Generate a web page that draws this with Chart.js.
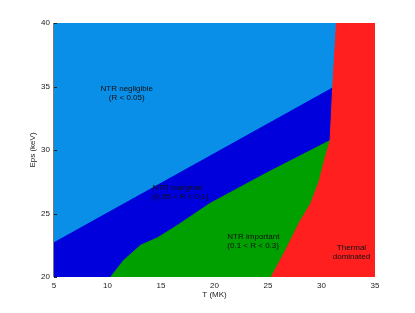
<!DOCTYPE html>
<html>
<head>
    <title>NTR regimes</title>
    <script src="https://cdn.jsdelivr.net/npm/chart.js"></script>
    <style>
        body { margin: 0; background: #fff; }
        #wrap { width: 415px; height: 313px; }
    </style>
</head>
<body>
    <div id="wrap"><canvas id="regimes" width="415" height="313"></canvas></div>

    <script>
        // boundaries (T in MK, Eps in keV)
        const topT = [5, 35];
        const topE = [40, 40];

        const marginalT = [5, 31.5];
        const marginalE = [22.7, 35.1];

        const importantT = [10.3, 11.5, 13.1, 14.7, 16.6, 19.6, 24.9, 30.7, 31.3];
        const importantE = [20, 21.3, 22.5, 23.1, 24.1, 25.8, 28.2, 30.7, 31.0];

        const thermalT = [25.3, 26.7, 28.0, 29.0, 29.8, 30.4, 30.8, 31.05, 31.4, 35, 35];
        const thermalE = [20, 22.2, 24.4, 25.8, 27.6, 29.6, 30.7, 35, 40, 40, 20];

        const xTicks = [5, 10, 15, 20, 25, 30, 35];
        const yTicks = [20, 25, 30, 35, 40];

        // region labels: [lines, T, Eps, align]
        const etiquetas = [
            [['NTR negligible', '(R < 0.05)'], 11.8, 34.5, 'center'],
            [['NTR marginal', '(0.05 < R < 0.1)'], 14.2, 26.65, 'left'],
            [['NTR important', '(0.1 < R < 0.3)'], 21.2, 22.8, 'left'],
            [['Thermal', 'dominated'], 32.8, 21.95, 'center']
        ];

        const puntos = (xs, ys) => xs.map((x, i) => ({ x: x, y: ys[i] }));

        function region(label, xs, ys, color, order) {
            return {
                label: label,
                data: puntos(xs, ys),
                backgroundColor: color,
                borderColor: color,
                borderWidth: 1,
                pointRadius: 0,
                fill: 'start',
                tension: 0,
                order: order
            };
        }

        const textoRegiones = {
            id: 'textoRegiones',
            afterDatasetsDraw(chart) {
                const ctx = chart.ctx;
                const xs = chart.scales.x, ys = chart.scales.y;
                ctx.save();

                // y axis line and inner ticks
                ctx.strokeStyle = '#777';
                ctx.lineWidth = 1;
                ctx.beginPath();
                ctx.moveTo(xs.left - 0.5, ys.top);
                ctx.lineTo(xs.left - 0.5, ys.bottom);
                ctx.stroke();
                ctx.strokeStyle = '#222';
                yTicks.forEach(v => {
                    const py = Math.round(ys.getPixelForValue(v)) + 0.5;
                    ctx.beginPath();
                    ctx.moveTo(xs.left, py);
                    ctx.lineTo(xs.left + 3, py);
                    ctx.stroke();
                });

                ctx.fillStyle = '#111';
                ctx.font = '8px "Liberation Sans", Arial, sans-serif';
                ctx.textBaseline = 'middle';
                etiquetas.forEach(([lineas, t, e, align]) => {
                    const px = xs.getPixelForValue(t);
                    const py = ys.getPixelForValue(e);
                    ctx.textAlign = align;
                    lineas.forEach((l, i) => {
                        ctx.fillText(l, px, py + (i - (lineas.length - 1) / 2) * 9);
                    });
                });
                ctx.restore();
            }
        };

        const ctx = document.getElementById('regimes').getContext('2d');
        new Chart(ctx, {
            type: 'line',
            data: {
                datasets: [
                    region('NTR negligible', topT, topE, '#0a8fe8', 4),
                    region('NTR marginal', marginalT, marginalE, '#0000dc', 3),
                    region('NTR important', importantT, importantE, '#00a000', 2),
                    region('Thermal dominated', thermalT, thermalE, '#ff1f1f', 1)
                ]
            },
            options: {
                responsive: false,
                animation: false,
                layout: { padding: { left: 0, right: 40, top: 23, bottom: 0 } },
                plugins: {
                    legend: { display: false },
                    tooltip: { enabled: false }
                },
                scales: {
                    x: {
                        type: 'linear',
                        min: 5,
                        max: 35,
                        afterBuildTicks: s => { s.ticks = xTicks.map(v => ({ value: v })); },
                        grid: { display: false, drawTicks: false },
                        border: { display: false },
                        ticks: { color: '#222', font: { size: 8, family: 'Liberation Sans' }, padding: 4, maxRotation: 0 },
                        title: { display: true, text: 'T (MK)', color: '#222', font: { size: 8, family: 'Liberation Sans' }, padding: { top: 0, bottom: 13 } },
                        afterFit: s => { s.height = 36; }
                    },
                    y: {
                        min: 20,
                        max: 40,
                        afterBuildTicks: s => { s.ticks = yTicks.map(v => ({ value: v })); },
                        grid: { display: false, drawTicks: false },
                        border: { display: false },
                        ticks: { color: '#222', font: { size: 8, family: 'Liberation Sans' }, padding: 4 },
                        title: { display: true, text: 'Eps (keV)', color: '#222', font: { size: 8, family: 'Liberation Sans' }, padding: { top: 28, bottom: 0 } },
                        afterFit: s => { s.width = 54; }
                    }
                }
            },
            plugins: [textoRegiones]
        });
    </script>
</body>
</html>
